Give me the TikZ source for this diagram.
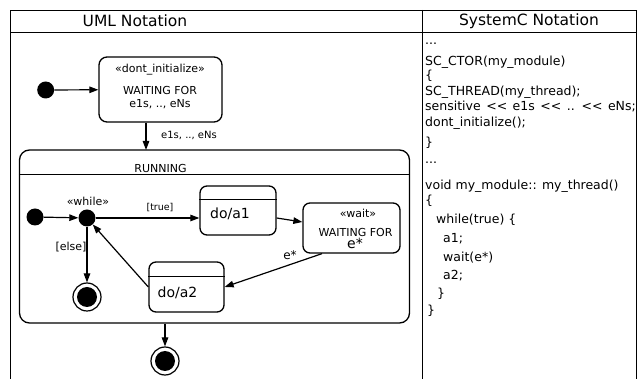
\documentclass[tikz,border=0pt]{standalone}
\usepackage{fontspec}
\setmainfont{DejaVu Sans}
\newfontfamily\codefont{DejaVu Sans}
\usetikzlibrary{arrows.meta,calc}

\tikzset{
  state/.style={draw, rounded corners=7pt, line width=1.3pt, inner sep=0pt},
  dot/.style={circle, fill, inner sep=0pt, minimum size=17pt},
  final/.style={circle, draw, line width=1.2pt, inner sep=0pt, minimum size=28pt,
    path picture={\fill (path picture bounding box.center) circle (10pt);}},
  trans/.style={line width=1.2pt, -{Triangle[length=9pt,width=6.5pt]}},
  lbl/.style={inner sep=0pt, font=\fontsize{11}{13}\selectfont},
  big/.style={inner sep=0pt, font=\fontsize{14}{16}\selectfont},
  head/.style={inner sep=0pt, font=\fontsize{15.5}{18}\selectfont},
  code/.style={anchor=base west, inner sep=0pt, font=\codefont\fontsize{12.5}{15}\selectfont},
}

\begin{document}
\begin{tikzpicture}[x=1pt,y=-1pt]
  \useasboundingbox (0,0) rectangle (641,379);
  \draw[line width=0.8pt] (10,379) -- (10,10) -- (636,10) -- (636,379);
  \draw[line width=0.8pt] (10,32) -- (636,32);
  \draw[line width=0.8pt] (422,10) -- (422,379);
  \node[head] (umlhead) at (135,21) {UML Notation};
  \node[head] (schead) at (529,21) {SystemC Notation};

  % top level states
  \node[dot] (start) at (45.7,90) {};
  \node[state, rounded corners=8pt, minimum width=123pt, minimum height=65pt] (dontinit) at (160.5,89.5) {};
  \node[lbl] (dontinitst) at (160,70) {«dont\_initialize»};
  \node[lbl, align=center] (dontinitwait) at (160,97.5) {WAITING FOR\\e1s, .., eNs};
  \draw[trans] (start) -- (dontinit);

  \node[state, rounded corners=10pt, minimum width=390pt, minimum height=173pt] (running) at (214.5,236.5) {};
  \draw[line width=1.3pt] ($(running.north west)+(0,25)$) -- ($(running.north east)+(0,25)$);
  \node[lbl] (runlbl) at (160.5,168) {RUNNING};
  \coordinate (runin) at (146,150);
  \draw[trans] (dontinit.south -| runin) -- (runin);
  \node[lbl, font=\fontsize{10}{12}\selectfont, anchor=west] (runinlbl) at (161,135) {e1s, .., eNs};

  % inside RUNNING
  \node[dot] (substart) at (35,217) {};
  \node[dot] (while) at (87,218) {};
  \node[lbl] (whilelbl) at (88,201) {«while»};
  \node[state, minimum width=76pt, minimum height=49pt] (doa1) at (238,210.5) {};
  \draw[line width=1.3pt] ($(doa1.north west)+(0,14)$) -- ($(doa1.north east)+(0,14)$);
  \node[big] (doa1lbl) at (230,214) {do/a1};
  \node[state, minimum width=97pt, minimum height=50pt] (wait) at (351.5,228) {};
  \node[lbl] (waitst) at (358,213) {«wait»};
  \node[lbl] (waitfor) at (355.5,232) {WAITING FOR};
  \node[big] (waitev) at (355,243) {e*};
  \node[state, minimum width=75pt, minimum height=50pt] (doa2) at (186.5,287) {};
  \draw[line width=1.3pt] ($(doa2.north west)+(0,15)$) -- ($(doa2.north east)+(0,15)$);
  \node[big] (doa2lbl) at (177.5,293) {do/a2};
  \node[final] (subend) at (87,297) {};
  \node[final] (end) at (165,361) {};

  \draw[trans] (substart) -- (while);
  \draw[trans] (while) -- (while -| doa1.west);
  \node[lbl, font=\fontsize{9.5}{11}\selectfont] (truelbl) at (160,208) {[true]};
  \draw[trans] (doa1.east |- while) -- ($(wait.west)+(0,-6)$);
  \draw[trans] ($(wait.south west)!0.2!(wait.south east)$) -- (doa2.east);
  \node[lbl, font=\fontsize{12}{14}\selectfont] (evlbl) at (290,255) {e*};
  \draw[trans] (doa2.west) -- (while);
  \draw[trans] (while) -- (subend);
  \node[lbl] (elselbl) at (71,247) {[else]};
  \draw[trans] (running.south -| end) -- (end);

  % SystemC code
  \node[code] (c0) at (425,45) {...};
  \node[code] (c1) at (425,65.5) {SC\_CTOR(my\_module)};
  \node[code] (c2) at (425,80) {\{};
  \node[code] (c3) at (425,95.5) {SC\_THREAD(my\_thread);};
  \node[code] (c4) at (425,111) {{\spaceskip=5.5pt sensitive << e1s << .. << eNs;}};
  \node[code] (c5) at (425,127) {dont\_initialize();};
  \node[code] (c6) at (425,147) {\}};
  \node[code] (c7) at (425,164) {...};
  \node[code] (c8) at (425,189.5) {void my\_module:: my\_thread()};
  \node[code] (c9) at (425,205) {\{};
  \node[code] (c10) at (436,223.5) {while(true) \{};
  \node[code] (c11) at (443,242.5) {a1;};
  \node[code] (c12) at (443,261.5) {wait(e*)};
  \node[code] (c13) at (443,279.5) {a2;};
  \node[code] (c14) at (437,298) {\}};
  \node[code] (c15) at (427,315) {\}};
\end{tikzpicture}
\end{document}
